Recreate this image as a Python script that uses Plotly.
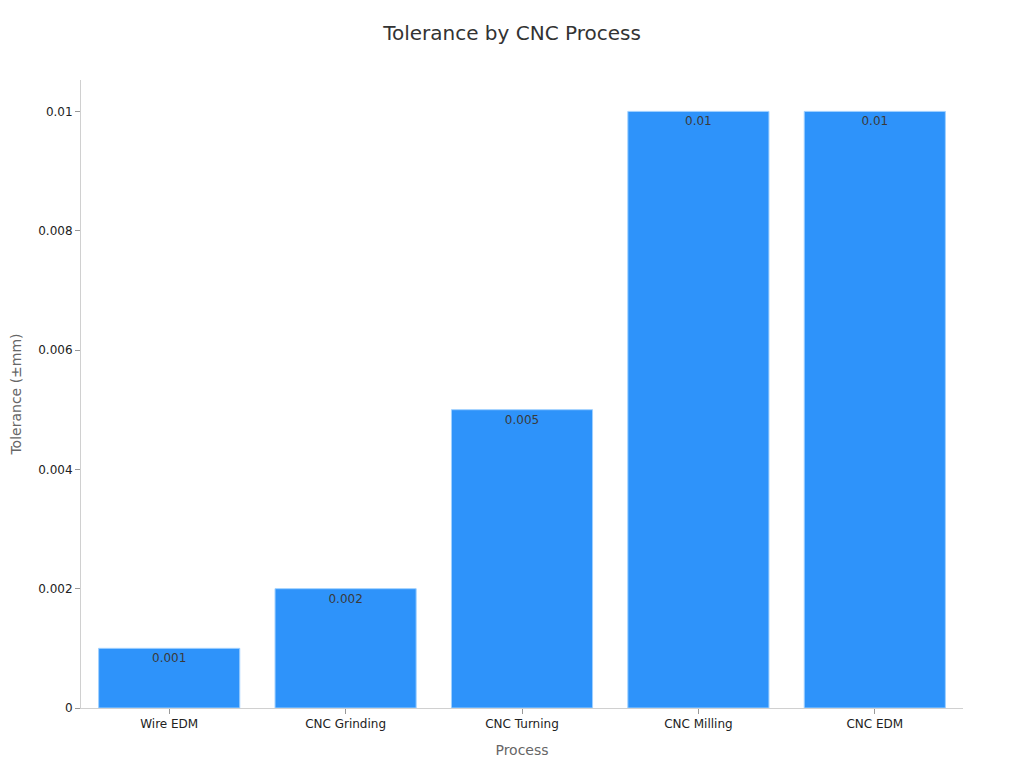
import plotly.graph_objects as go

processes = ["Wire EDM", "CNC Grinding", "CNC Turning", "CNC Milling", "CNC EDM"]
tolerances = [0.001, 0.002, 0.005, 0.01, 0.01]
bar_labels = ["0.001", "0.002", "0.005", "0.01", "0.01"]

fig = go.Figure(
    go.Bar(
        x=processes,
        y=tolerances,
        text=bar_labels,
        textposition="inside",
        insidetextanchor="end",
        textfont=dict(size=12, color="#3a3a3a"),
        marker=dict(color="#2E93FA", line=dict(color="#9fd0ff", width=1)),
        hoverinfo="x+y",
    )
)

fig.update_layout(
    width=1024,
    height=768,
    paper_bgcolor="white",
    plot_bgcolor="white",
    font=dict(family="DejaVu Sans", size=12, color="#222222"),
    title=dict(text="Tolerance by CNC Process", x=0.4922, xanchor="center", y=0.9765,
               font=dict(size=20, color="#333333")),
    margin=dict(l=73, r=69, t=72, b=68),
    bargap=0.2,
    showlegend=False,
)
fig.update_xaxes(
    title=dict(text="Process", font=dict(size=14, color="#666666"), standoff=14),
    showline=True, linecolor="#d0d0d0", linewidth=1,
    ticks="outside", tickcolor="#999999", ticklen=5,
    showgrid=False, tickfont=dict(size=12, color="#222222"),
)
fig.update_yaxes(
    title=dict(text="Tolerance (±mm)", font=dict(size=14, color="#666666"), standoff=21),
    automargin=False,
    showline=True, linecolor="#d0d0d0", linewidth=1,
    ticks="outside", tickcolor="#999999", ticklen=5,
    showgrid=False, zeroline=False, tickfont=dict(size=12, color="#222222"),
    tickvals=[0, 0.002, 0.004, 0.006, 0.008, 0.01],
    ticktext=["0", "0.002", "0.004", "0.006", "0.008", "0.01"],
)

fig.write_html("out.html")
